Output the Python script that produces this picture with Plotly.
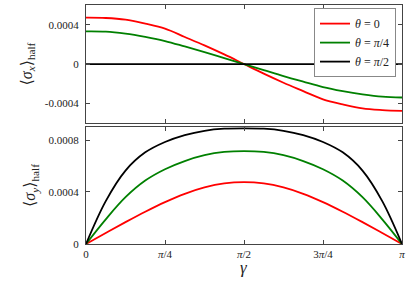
import numpy as np
import plotly.graph_objects as go

# gamma sampled at k*pi/16, k = 0..16
gamma_frac = [k / 16 for k in range(17)]

# top panel: <sigma_x>_half
sx_theta0 = [0.000471, 0.000468, 0.000451, 0.00041, 0.000359, 0.000275, 0.00019, 0.0000977, 0.0,
             -0.0000977, -0.00019, -0.000275, -0.000359, -0.00041, -0.000451, -0.000468, -0.000476]
sx_theta_pi4 = [0.000332, 0.000329, 0.000308, 0.000275, 0.000234, 0.000179, 0.000122, 0.000061, 0.0,
                -0.000061, -0.000122, -0.000179, -0.000234, -0.000275, -0.000308, -0.000332, -0.000340]
sx_theta_pi2 = [0.0] * 17

# bottom panel: <sigma_y>_half
sy_theta0 = [0.0, 0.000085, 0.000168, 0.000248, 0.000322, 0.000386, 0.000435, 0.000466, 0.000476,
             0.000466, 0.000435, 0.000386, 0.000322, 0.000248, 0.000168, 0.000085, 0.0]
sy_theta_pi4 = [0.0, 0.000190, 0.000360, 0.000488, 0.000575, 0.000638, 0.000683, 0.000708, 0.000715,
                0.000708, 0.000683, 0.000638, 0.000575, 0.000488, 0.000360, 0.000190, 0.0]
sy_theta_pi2 = [0.0, 0.000330, 0.000565, 0.000705, 0.000785, 0.000838, 0.000871, 0.000887, 0.000890,
                0.000887, 0.000871, 0.000838, 0.000785, 0.000705, 0.000565, 0.000330, 0.0]

series_names = ["<i>θ</i> = 0", "<i>θ</i> = <i>π</i>/4", "<i>θ</i> = <i>π</i>/2"]
series_colors = ["#ff0000", "#008000", "#000000"]

x_tick_vals = [0, np.pi / 4, np.pi / 2, 3 * np.pi / 4, np.pi]
x_tick_text = ["0", "<i>π</i>/4", "<i>π</i>/2", "3<i>π</i>/4", "<i>π</i>"]

top_tick_vals = [-0.0004, 0, 0.0004]
top_tick_text = ["-0.0004", "0", "0.0004"]
bot_tick_vals = [0, 0.0004, 0.0008]
bot_tick_text = ["0", "0.0004", "0.0008"]

gamma = [f * np.pi for f in gamma_frac]

fig = go.Figure()
top_sets = [sx_theta0, sx_theta_pi4, sx_theta_pi2]
bot_sets = [sy_theta0, sy_theta_pi4, sy_theta_pi2]
for i in range(3):
    fig.add_trace(go.Scatter(x=gamma, y=top_sets[i], mode="lines",
                             line=dict(color=series_colors[i], width=1.8, shape="spline", smoothing=1.0),
                             name=series_names[i], xaxis="x", yaxis="y", showlegend=True))
for i in range(3):
    fig.add_trace(go.Scatter(x=gamma, y=bot_sets[i], mode="lines",
                             line=dict(color=series_colors[i], width=1.8, shape="spline", smoothing=1.0),
                             name=series_names[i], xaxis="x2", yaxis="y2", showlegend=False))

serif = "Liberation Serif, DejaVu Serif, serif"
axis_common = dict(showline=True, linecolor="#444444", linewidth=1.2, mirror="ticks", ticks="inside",
                   ticklen=4, tickcolor="#444444", showgrid=False, zeroline=False, automargin=False,
                   tickfont=dict(family=serif, size=11, color="#222222"))

fig.update_layout(
    width=411, height=281,
    margin=dict(l=86, r=9, t=5, b=37),
    paper_bgcolor="white", plot_bgcolor="white",
    font=dict(family=serif, color="#222222"),
    xaxis=dict(domain=[0, 1], anchor="y", range=[0, np.pi], tickvals=x_tick_vals, showticklabels=False, **axis_common),
    yaxis=dict(domain=[0.506, 1], anchor="x", range=[-0.0006, 0.0006], tickvals=top_tick_vals, ticktext=top_tick_text,
               ticklabelstandoff=4,
               title=dict(text="⟨<i>σ<sub>x</sub></i>⟩<sub>half</sub>", font=dict(family=serif, size=16), standoff=8),
               **axis_common),
    xaxis2=dict(domain=[0, 1], anchor="y2", range=[0, np.pi], tickvals=x_tick_vals, ticktext=x_tick_text,
                **axis_common),
    yaxis2=dict(domain=[0, 0.4895], anchor="x2", range=[0, 0.0009], tickvals=bot_tick_vals, ticktext=bot_tick_text,
                ticklabelstandoff=4,
                title=dict(text="⟨<i>σ<sub>y</sub></i>⟩<sub>half</sub>", font=dict(family=serif, size=16), standoff=8),
                **axis_common),
    legend=dict(x=0.981, y=0.987, xanchor="right", yanchor="top", bgcolor="white", bordercolor="#888888", borderwidth=1,
                font=dict(family=serif, size=12), tracegroupgap=0, itemwidth=30),
    annotations=[dict(text="<i>γ</i>", xref="paper", yref="paper", x=0.5, y=-0.098, xanchor="center", yanchor="middle",
                      showarrow=False, font=dict(family=serif, size=17, color="#222222"))],
)

fig.write_html("out.html", config={"displayModeBar": False}, post_script="document.body.style.margin='0';")
